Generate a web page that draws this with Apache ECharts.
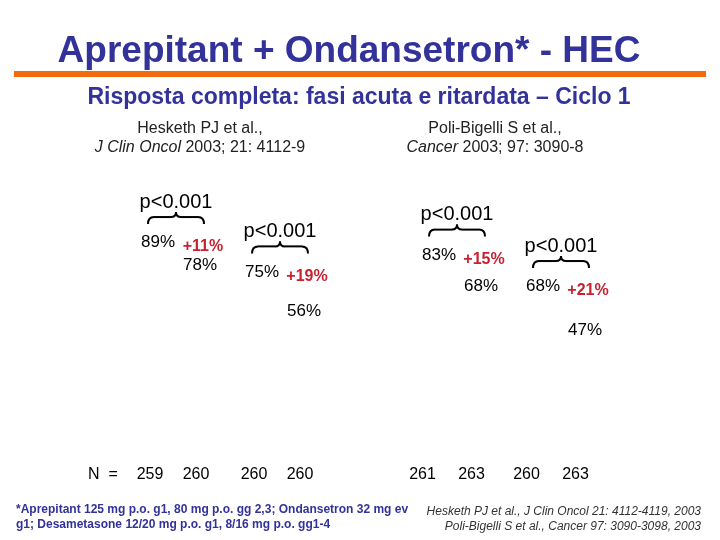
<!DOCTYPE html>
<html>
<head>
<meta charset="utf-8">
<script src="https://cdn.jsdelivr.net/npm/echarts@6/dist/echarts.min.js"></script>
<style>
html, body { margin: 0; padding: 0; background: #fff; }
#main { width: 720px; height: 540px; }
</style>
</head>
<body>
<div id="main"></div>
<script>
// fasi (categorie) per studio
var phases = ["Fase acuta", "Fase ritardata"];

// Hesketh PJ et al. - risposta completa (%)
var heskethApr = [89, 75];
var heskethStd = [78, 56];
var heskethNApr = [259, 260];
var heskethNStd = [260, 260];

// Poli-Bigelli S et al. - risposta completa (%)
var poliApr = [83, 68];
var poliStd = [68, 47];
var poliNApr = [261, 260];
var poliNStd = [263, 263];

var pLabels = ["p<0.001", "p<0.001"];

var navy = "#32329a", red = "#c8202f", font = "Liberation Sans, Arial, sans-serif";
var chart = echarts.init(document.getElementById("main"));

function nFormatter(nA, nS) {
    return function(v, i) {
        return "{n|" + nA[i] + "}{n|" + nS[i] + "}";
    };
}

function xAxisFor(gi, nA, nS, w, padR) {
    return {
        type: "category",
        gridIndex: gi,
        data: phases,
        axisLine: { show: false },
        axisTick: { show: false },
        splitLine: { show: false },
        axisLabel: {
            margin: 24,
            padding: [0, padR, 0, 0],
            formatter: nFormatter(nA, nS),
            rich: { n: { width: w, align: "center", fontSize: 16, color: "#000", fontFamily: font } }
        }
    };
}

function barSeries(gi, data) {
    return {
        type: "bar",
        xAxisIndex: gi,
        yAxisIndex: gi,
        data: data,
        barWidth: 28,
        barGap: "50%",
        itemStyle: { color: "rgba(0,0,0,0)" },
        label: {
            show: true,
            position: "top",
            distance: 5,
            formatter: "{c}%",
            fontSize: 17,
            color: "#000",
            fontFamily: font
        }
    };
}

var yAxisBase = { type: "value", min: 0, max: 100, show: false };

chart.setOption({
    backgroundColor: "#fff",
    animation: false,
    grid: [
        { left: 127, width: 208, top: 233, bottom: 97.5 },
        { left: 408, width: 208, top: 233, bottom: 97.5 }
    ],
    xAxis: [
        xAxisFor(0, heskethNApr, heskethNStd, 46, 12),
        xAxisFor(1, poliNApr, poliNStd, 49, 26)
    ],
    yAxis: [
        echarts.util.extend({ gridIndex: 0 }, yAxisBase),
        echarts.util.extend({ gridIndex: 1 }, yAxisBase)
    ],
    series: [
        barSeries(0, heskethApr),
        barSeries(0, heskethStd),
        barSeries(1, poliApr),
        barSeries(1, poliStd)
    ]
});

// testi fissi della diapositiva
var graphics = [
    { type: "text", x: 349, y: 33, style: { text: "Aprepitant + Ondansetron* - HEC", align: "center", fill: navy, font: "bold 37px " + font } },
    { type: "rect", shape: { x: 14, y: 71, width: 692, height: 6 }, style: { fill: "#f26c0f" } },
    { type: "text", x: 359, y: 86, style: { text: "Risposta completa: fasi acuta e ritardata \u2013 Ciclo 1", align: "center", fill: navy, font: "bold 23px " + font } },
    { type: "text", x: 200, y: 119, style: {
        text: "Hesketh PJ et al.,\n{i|J Clin Oncol} 2003; 21: 4112-9", align: "center", fill: "#222", font: "16px " + font, lineHeight: 19,
        rich: { i: { fontStyle: "italic", fontSize: 16, fill: "#222", fontFamily: font } } } },
    { type: "text", x: 495, y: 119, style: {
        text: "Poli-Bigelli S et al.,\n{i|Cancer} 2003; 97: 3090-8", align: "center", fill: "#222", font: "16px " + font, lineHeight: 19,
        rich: { i: { fontStyle: "italic", fontSize: 16, fill: "#222", fontFamily: font } } } },
    { type: "text", x: 88, y: 467, style: { text: "N  =", fill: "#000", font: "16px " + font } },
    { type: "text", x: 16, y: 502, style: {
        text: "*Aprepitant 125 mg p.o. g1, 80 mg p.o. gg 2,3; Ondansetron 32 mg ev\ng1; Desametasone 12/20 mg p.o. g1, 8/16 mg p.o. gg1-4",
        fill: navy, font: "bold 12px " + font, lineHeight: 15 } },
    { type: "text", x: 701, y: 504, style: {
        text: "Hesketh PJ et al., J Clin Oncol 21: 4112-4119, 2003\nPoli-Bigelli S et al., Cancer 97: 3090-3098, 2003",
        align: "right", fill: "#333", font: "italic 12px " + font, lineHeight: 15 } }
];

// parentesi graffa orizzontale (estremi verso il basso, punta in alto)
function brace(x1, x2, yb) {
    var m = (x1 + x2) / 2, ln = { stroke: "#000", lineWidth: 2, fill: null };
    return [
        { type: "bezierCurve", shape: { x1: x1, y1: yb, x2: x1 + 6, y2: yb - 7, cpx1: x1, cpy1: yb - 7 }, style: ln },
        { type: "line", shape: { x1: x1 + 6, y1: yb - 7, x2: m - 5, y2: yb - 7 }, style: ln },
        { type: "bezierCurve", shape: { x1: m - 5, y1: yb - 7, x2: m, y2: yb - 12, cpx1: m, cpy1: yb - 7 }, style: ln },
        { type: "bezierCurve", shape: { x1: m, y1: yb - 12, x2: m + 5, y2: yb - 7, cpx1: m, cpy1: yb - 7 }, style: ln },
        { type: "line", shape: { x1: m + 5, y1: yb - 7, x2: x2 - 6, y2: yb - 7 }, style: ln },
        { type: "bezierCurve", shape: { x1: x2 - 6, y1: yb - 7, x2: x2, y2: yb, cpx1: x2, cpy1: yb - 7 }, style: ln }
    ];
}

var groups = [ { gi: 0, apr: heskethApr, std: heskethStd }, { gi: 1, apr: poliApr, std: poliStd } ];
groups.forEach(function(g) {
    for (var i = 0; i < phases.length; i++) {
        var p = chart.convertToPixel({ gridIndex: g.gi }, [i, g.apr[i]]);
        var cx = p[0], top = p[1], bc = cx - 3;
        graphics = graphics.concat(brace(bc - 28, bc + 28, top - 32));
        graphics.push({ type: "text", x: bc, y: top - 54, style: { text: pLabels[i], align: "center", verticalAlign: "middle", fill: "#000", font: "20px " + font } });
        graphics.push({ type: "text", x: cx + 24, y: top - 9, style: { text: "+" + (g.apr[i] - g.std[i]) + "%", align: "center", verticalAlign: "middle", fill: red, font: "bold 16px " + font } });
    }
});

chart.setOption({ graphic: graphics });
</script>
</body>
</html>
